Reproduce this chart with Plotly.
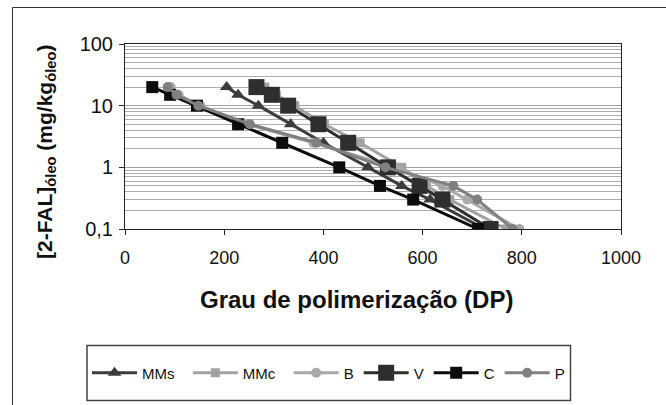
import plotly.graph_objects as go

# 2-FAL concentration levels (mg/kg of oil) shared by every oil series
fal_levels = [20, 15, 10, 5, 2.5, 1, 0.5, 0.3, 0.1]

# Degree of polymerisation reached at each 2-FAL level, per oil
dp_mms = [205, 228, 269, 334, 400, 490, 558, 615, 725]
dp_mmc = [282, 305, 342, 402, 474, 558, 608, 655, 768]
dp_b = [92, 108, 152, 245, 380, 545, 640, 690, 795]
dp_v = [265, 296, 329, 390, 450, 530, 594, 640, 737]
dp_c = [55, 91, 145, 228, 317, 432, 514, 581, 712]
dp_p = [86, 104, 148, 252, 386, 525, 662, 710, 782]

series_names = ["MMs", "MMc", "B", "V", "C", "P"]
x_ticks = [0, 200, 400, 600, 800, 1000]
y_ticks = [0.1, 1, 10, 100]
y_tick_text = ["0,1", "1", "10", "100"]
minor_y = [m * 10 ** e for e in (-1, 0, 1) for m in range(2, 10)]

styles = {
    "MMs": dict(color="#3c3c3c", symbol="triangle-up", size=12),
    "MMc": dict(color="#a2a2a2", symbol="square", size=9),
    "B": dict(color="#a9a9a9", symbol="circle", size=10),
    "V": dict(color="#2e2e2e", symbol="square", size=16),
    "C": dict(color="#0c0c0c", symbol="square", size=12),
    "P": dict(color="#808080", symbol="circle", size=10),
}
# extra trailing space widens the two longer legend entries
legend_pad = {"MMs": "\u00a0\u00a0", "MMc": "\u00a0\u00a0"}
dp_values = [dp_mms, dp_mmc, dp_b, dp_v, dp_c, dp_p]

fig = go.Figure()
for name, xs in zip(series_names, dp_values):
    st = styles[name]
    fig.add_trace(go.Scatter(
        x=xs, y=fal_levels, name=name + legend_pad.get(name, ""),
        mode="lines+markers",
        line=dict(color=st["color"], width=3),
        marker=dict(color=st["color"], symbol=st["symbol"], size=st["size"],
                    line=dict(width=0)),
    ))

W, H = 666, 405
L, R, T, B = 125, 45, 44, 176
PW, PH = W - L - R, H - T - B


def px(x):
    return (x - L) / PW


def py(y):
    return (H - B - y) / PH


font_family = "Liberation Sans, Arial, sans-serif"

fig.update_layout(
    width=W, height=H,
    margin=dict(l=L, r=R, t=T, b=B, autoexpand=False),
    paper_bgcolor="white", plot_bgcolor="white",
    font=dict(family=font_family, color="#111111"),
    showlegend=True,
    legend=dict(
        orientation="h", x=px(87), y=py(373), xanchor="left", yanchor="middle",
        font=dict(size=15, color="#111111"), bgcolor="rgba(0,0,0,0)",
        borderwidth=0, itemwidth=45,
    ),
    xaxis=dict(
        range=[0, 1000], tickvals=x_ticks, showgrid=False, zeroline=False,
        showline=True, linecolor="#222222", linewidth=1, mirror=True,
        ticks="outside", ticklen=5, tickcolor="#222222",
        tickfont=dict(size=18), ticklabelstandoff=7,
    ),
    yaxis=dict(
        type="log", range=[-1, 2], tickvals=y_ticks, ticktext=y_tick_text,
        showgrid=True, gridcolor="#a0a0a0", gridwidth=1, zeroline=False,
        showline=True, linecolor="#222222", linewidth=1, mirror=True,
        ticks="outside", ticklen=5, tickcolor="#222222",
        tickfont=dict(size=20), ticklabelstandoff=2,
        minor=dict(tickvals=minor_y, showgrid=True, gridcolor="#adadad",
                   gridwidth=1, ticks=""),
    ),
    shapes=[
        # outer chart frame
        dict(type="rect", xref="paper", yref="paper",
             x0=px(12.5), x1=px(W + 20), y0=py(H + 20), y1=py(7.5),
             line=dict(color="#333333", width=1)),
        # legend frame
        dict(type="rect", xref="paper", yref="paper",
             x0=px(87), x1=px(570.5), y0=py(400.5), y1=py(345.5),
             line=dict(color="#444444", width=1.5)),
    ],
    annotations=[
        dict(text="<b>Grau de polimerização (DP)</b>", xref="paper", yref="paper",
             x=px(356), y=py(299), xanchor="center", yanchor="middle",
             showarrow=False, font=dict(size=24, color="#111111")),
        dict(text="<b>[2-FAL]<sub>óleo</sub> (mg/kg<sub>óleo</sub>)</b>",
             xref="paper", yref="paper", x=px(46), y=py(152),
             xanchor="center", yanchor="middle", textangle=-90,
             showarrow=False, font=dict(size=21, color="#111111")),
    ],
)

fig.write_html("out.html")
